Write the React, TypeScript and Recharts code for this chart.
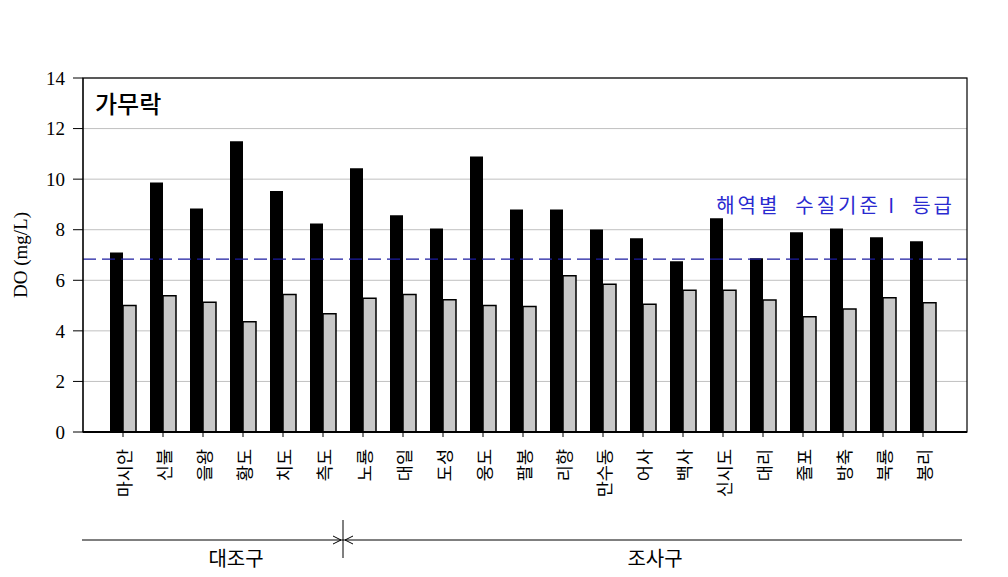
import React from "react";
import { BarChart, Bar, XAxis, YAxis, CartesianGrid, ReferenceLine } from "recharts";

const sites = [
  "마시안", "신불", "을왕", "황도", "치도", "측도", "노룡", "대일", "도성", "웅도", "팔봉",
  "리향", "만수동", "어사", "백사", "신시도", "대리", "줄포", "방축", "북룡", "봉리",
];
const doBlack = [7.1, 9.87, 8.84, 11.5, 9.53, 8.25, 10.43, 8.57, 8.05, 10.9, 8.8, 8.8, 8.01, 7.66, 6.75, 8.45, 6.87, 7.9, 8.05, 7.7, 7.54];
const doGray = [5.0, 5.39, 5.13, 4.36, 5.44, 4.68, 5.29, 5.44, 5.23, 5.0, 4.96, 6.18, 5.84, 5.05, 5.61, 5.61, 5.22, 4.56, 4.86, 5.31, 5.11];
const yTicks = [0, 2, 4, 6, 8, 10, 12, 14];
const standardDO = 6.84;
const controlCount = 6; // 대조구 sites

const data = sites.map((name, i) => ({ name, a: doBlack[i], b: doGray[i] }));

const W = 1008;
const H = 577;
const PL = 83;
const PR = 967;
const PT = 78;
const PB = 432;
const padL = 20;
const padR = 24;
const band = (PR - PL - padL - padR) / sites.length;

const XTick = (props: any) => {
  const { x, y, payload } = props;
  const ty = y + 10;
  return (
    <text
      x={x}
      y={ty}
      transform={`rotate(-90, ${x}, ${ty})`}
      textAnchor="end"
      dominantBaseline="central"
      fontFamily="'Noto Sans CJK KR'"
      fontSize={17.5}
      fill="#000"
    >
      {payload.value}
    </text>
  );
};

export default function App() {
  const divX = PL + padL + band * controlCount;
  const lineY = 540;
  return (
    <div style={{ position: "absolute", left: 0, top: 0, width: W, height: H, background: "#fff" }}>
      <BarChart
        width={W}
        height={H}
        data={data}
        margin={{ top: PT, right: W - PR, bottom: 0, left: 0 }}
        barSize={13}
        barGap={0}
      >
        <CartesianGrid vertical={false} stroke="#c0c0c0" />
        <XAxis
          dataKey="name"
          interval={0}
          padding={{ left: padL, right: padR }}
          axisLine={{ stroke: "#000", strokeWidth: 2 }}
          tickLine={{ stroke: "#000" }}
          tickSize={5}
          tick={XTick}
          height={H - PB}
        />
        <YAxis
          width={PL}
          domain={[0, 14]}
          ticks={yTicks}
          axisLine={{ stroke: "#000" }}
          tickLine={{ stroke: "#000" }}
          tickSize={10}
          tickMargin={8}
          tick={{ fill: "#000", fontSize: 19, fontFamily: "'Liberation Serif', serif" }}
        />
        <ReferenceLine y={standardDO} stroke="#1c1ca0" strokeWidth={1.3} strokeDasharray="13 6" />
        <Bar dataKey="a" fill="#000" isAnimationActive={false} />
        <Bar dataKey="b" fill="#c8c8c8" stroke="#000" strokeWidth={1.5} isAnimationActive={false} />
      </BarChart>
      <svg
        width={W}
        height={H}
        style={{ position: "absolute", left: 0, top: 0, pointerEvents: "none" }}
      >
        <rect x={PL} y={PT} width={PR - PL} height={PB - PT} fill="none" stroke="#000" strokeWidth={1.2} />
        <text x={95} y={113} fontFamily="'Noto Sans CJK KR'" fontSize={24} fontWeight={500} fill="#000">
          가무락
        </text>
        <text
          x={955}
          y={213}
          textAnchor="end"
          fontFamily="'Noto Sans CJK KR'"
          fontSize={20}
          letterSpacing={3}
          fill="#2a2ad0"
          style={{ whiteSpace: "pre" }}
        >
          {"해역별  수질기준 I  등급"}
        </text>
        <text
          x={20}
          y={255}
          transform="rotate(-90, 20, 255)"
          textAnchor="middle"
          dominantBaseline="central"
          fontFamily="'Liberation Serif', serif"
          fontSize={19}
          fill="#000"
        >
          DO (mg/L)
        </text>
        <line x1={82} y1={lineY} x2={962} y2={lineY} stroke="#000" strokeWidth={1} />
        <line x1={divX} y1={520} x2={divX} y2={558} stroke="#000" strokeWidth={1} />
        <polyline points={`${divX - 10},${lineY - 4} ${divX - 2},${lineY} ${divX - 10},${lineY + 4}`} fill="none" stroke="#000" />
        <polyline points={`${divX + 10},${lineY - 4} ${divX + 2},${lineY} ${divX + 10},${lineY + 4}`} fill="none" stroke="#000" />
        <text x={236} y={566} textAnchor="middle" fontFamily="'Noto Sans CJK KR'" fontSize={20} fill="#000">
          대조구
        </text>
        <text x={655} y={566} textAnchor="middle" fontFamily="'Noto Sans CJK KR'" fontSize={20} fill="#000">
          조사구
        </text>
      </svg>
    </div>
  );
}
